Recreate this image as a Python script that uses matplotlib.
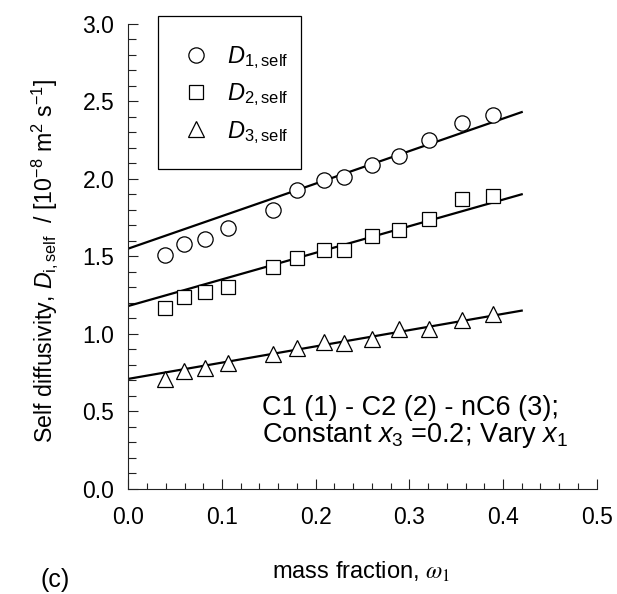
import numpy as np
import matplotlib
matplotlib.use("Agg")
import matplotlib.pyplot as plt
from matplotlib.ticker import MultipleLocator, FormatStrFormatter
from matplotlib.patches import Rectangle

plt.rcParams['font.family'] = ['Liberation Sans', 'DejaVu Sans']
plt.rcParams['mathtext.fontset'] = 'custom'
plt.rcParams['mathtext.rm'] = 'Liberation Sans'
plt.rcParams['mathtext.it'] = 'Liberation Sans:italic'
plt.rcParams['mathtext.bf'] = 'Liberation Sans:bold'

# mass fraction of C1
w1 = [0.039, 0.059, 0.082, 0.106, 0.154, 0.180, 0.209, 0.230,
      0.260, 0.289, 0.321, 0.356, 0.389]

# self diffusivities, 1e-8 m2/s
D1_self = [1.51, 1.58, 1.61, 1.68, 1.80, 1.93, 1.99, 2.01,
           2.09, 2.15, 2.25, 2.36, 2.41]
D2_self = [1.17, 1.24, 1.27, 1.30, 1.43, 1.49, 1.54, 1.54,
           1.63, 1.67, 1.74, 1.87, 1.89]
D3_self = [0.71, 0.76, 0.78, 0.81, 0.87, 0.91, 0.95, 0.94,
           0.97, 1.03, 1.03, 1.09, 1.13]

# straight-line fits (end points)
fit_w = [0.0, 0.42]
fit_D1 = [1.55, 2.43]
fit_D2 = [1.18, 1.90]
fit_D3 = [0.71, 1.15]

W, H = 617, 594
fig = plt.figure(figsize=(W / 100, H / 100), dpi=100)
ax = fig.add_axes([0.208, 0.1768, 0.759, 0.7833])

ax.plot(fit_w, fit_D1, 'k-', lw=1.6, zorder=2)
ax.plot(fit_w, fit_D2, 'k-', lw=1.6, zorder=2)
ax.plot(fit_w, fit_D3, 'k-', lw=1.6, zorder=2)

mk = dict(linestyle='none', mfc='white', mec='black', mew=0.9, zorder=3)
ax.plot(w1, D1_self, marker='o', ms=11, label=r'$D_{\mathrm{1,self}}$', **mk)
ax.plot(w1, D2_self, marker='s', ms=10, label=r'$D_{\mathrm{2,self}}$', **mk)
ax.plot(w1, D3_self, marker='^', ms=11, label=r'$D_{\mathrm{3,self}}$', **mk)

ax.set_xlim(0, 0.5)
ax.set_ylim(0, 3.0)
ax.xaxis.set_major_locator(MultipleLocator(0.1))
ax.xaxis.set_minor_locator(MultipleLocator(0.02))
ax.yaxis.set_major_locator(MultipleLocator(0.5))
ax.yaxis.set_minor_locator(MultipleLocator(0.1))
ax.xaxis.set_major_formatter(FormatStrFormatter('%.1f'))
ax.yaxis.set_major_formatter(FormatStrFormatter('%.1f'))

for s in ['top', 'right']:
    ax.spines[s].set_visible(False)
for s in ['left', 'bottom']:
    ax.spines[s].set_linewidth(0.8)
    ax.spines[s].set_color('#222222')

ax.tick_params(axis='both', which='both', direction='in', width=0.8,
               color='#222222', labelsize=16.5)
ax.tick_params(axis='x', which='major', length=7, pad=12)
ax.tick_params(axis='x', which='minor', length=4)
ax.tick_params(axis='y', which='major', length=7, pad=10)
ax.tick_params(axis='y', which='minor', length=6)

ax.set_ylabel(r'Self diffusivity, $D_{\mathrm{i,self}}$  / [10$^{-8}$ m$^{2}$ s$^{-1}$]',
              fontsize=16.7)
ax.yaxis.set_label_coords(-0.146, 0.49)
fig.text(0.585, 1 - 572 / H, r'mass fraction, $\omega_{1}$',
         fontsize=17, ha='center', va='center', math_fontfamily='stix')
fig.text(0.09, 1 - 580 / H, '(c)', fontsize=18, ha='center', va='center')

ax.text(0.143, 0.43, 'C1 (1) - C2 (2) - nC6 (3);\nConstant $x_3$ =0.2; Vary $x_1$',
        fontsize=19.5, ha='left', va='center', linespacing=1.0)

# legend box drawn separately so its size matches the original
fig.patches.append(Rectangle((158 / W, 1 - 169 / H), 143 / W, 153 / H,
                             transform=fig.transFigure, fill=False,
                             edgecolor='black', linewidth=0.9, zorder=5))
leg = ax.legend(loc='upper left', bbox_to_anchor=(179.5 / W, 1 - 44 / H),
                bbox_transform=fig.transFigure, fontsize=17, frameon=False,
                borderpad=0, borderaxespad=0, labelspacing=0.45,
                handletextpad=0.6, handlelength=1.4)

plt.savefig('out.png', dpi=100)
